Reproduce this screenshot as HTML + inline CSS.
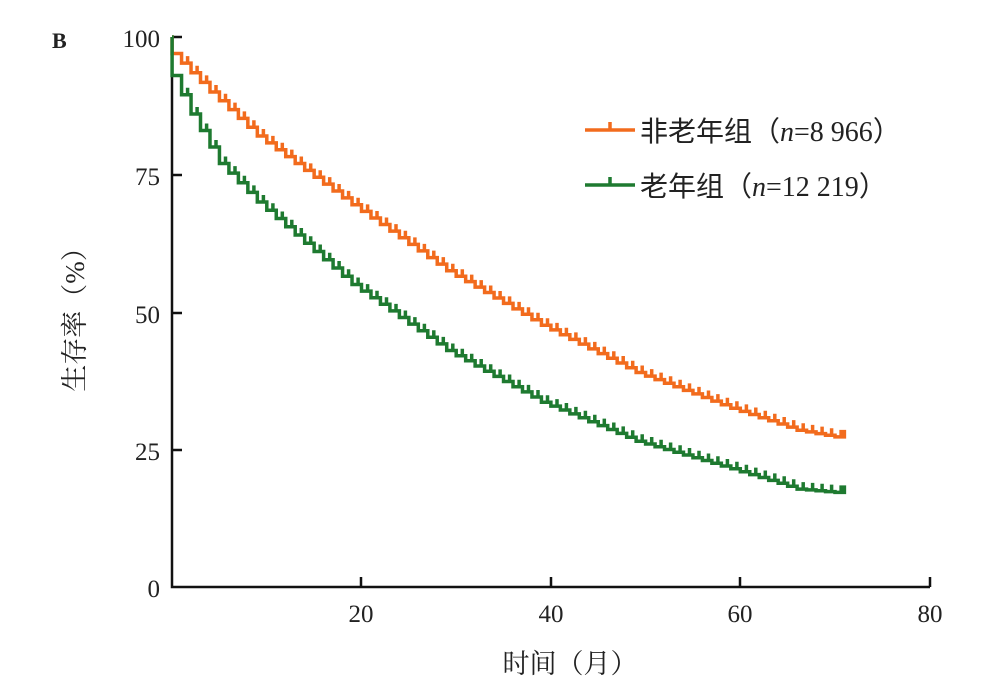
<!DOCTYPE html>
<html><head><meta charset="utf-8"><style>
body{margin:0;background:#fff}
svg text{font-family:"Liberation Serif","Noto Serif CJK SC",serif;fill:#222}
</style></head><body>
<svg id="s" width="1003" height="694" viewBox="0 0 1003 694" xmlns="http://www.w3.org/2000/svg">
<text x="52" y="48" font-size="22" font-weight="bold">B</text>
<g stroke="#111" stroke-width="2.5" fill="none">
<path d="M172,37 V587 H930"/>
<path d="M172,37 H182 M172,175 H182 M172,313 H182 M172,450 H182"/>
<path d="M361,587 V577 M551,587 V577 M740,587 V577 M930,587 V577"/>
</g>
<g font-size="25" text-anchor="end">
<text x="160" y="47">100</text><text x="160" y="185">75</text><text x="160" y="323">50</text><text x="160" y="460">25</text><text x="160" y="597">0</text>
</g>
<g font-size="25" text-anchor="middle">
<text x="361" y="622">20</text><text x="551" y="622">40</text><text x="740" y="622">60</text><text x="930" y="622">80</text>
</g>
<text x="570" y="673" font-size="27" text-anchor="middle" font-family="Noto Sans CJK SC,sans-serif">时间（月）</text>
<text transform="translate(84,313) rotate(-90)" font-size="27" text-anchor="middle" font-family="Noto Sans CJK SC,sans-serif">生存率（%）</text>
<path d="M585,130 H635 M610,130 V122" stroke="#f26b1d" stroke-width="3.5" fill="none"/>
<path d="M585,185 H635 M610,185 V177" stroke="#1e7a30" stroke-width="3.5" fill="none"/>
<text x="640" y="141" font-size="28"><tspan font-family="Noto Sans CJK SC,sans-serif">非老年组（</tspan><tspan font-style="italic">n</tspan>=8 966<tspan font-family="Noto Sans CJK SC,sans-serif">）</tspan></text>
<text x="640" y="196" font-size="28"><tspan font-family="Noto Sans CJK SC,sans-serif">老年组（</tspan><tspan font-style="italic">n</tspan>=12 219<tspan font-family="Noto Sans CJK SC,sans-serif">）</tspan></text>
<path id="o" stroke="#f26b1d" stroke-width="3.5" fill="none"/>
<path id="g" stroke="#1e7a30" stroke-width="3.5" fill="none"/>
</svg>
<script>
function interp(k,t){for(var i=0;i<k.length-1;i++){if(t<=k[i+1][0]){var a=k[i],b=k[i+1];return a[1]+(b[1]-a[1])*(t-a[0])/(b[0]-a[0]);}}return k[k.length-1][1];}
function X(t){return 172+t*9.47}function Y(p){return 587-p*5.5}
function build(k){var d="M"+X(0)+","+Y(100);var prev=100;for(var m=1;m<=71;m++){var v=interp(k,m);d+=" H"+X(m-1+0.01)+" V"+Y(v).toFixed(1);var ym=Y(v);if(m>1){d+=" H"+X(m-0.35).toFixed(1)+" V"+(ym-7).toFixed(1)+" V"+ym.toFixed(1);}d+=" H"+X(m).toFixed(1);prev=v;}d+=" V"+(Y(prev)-7);return d;}
var ok=[[0,100],[1,97],[5,90],[10,82],[20,69.5],[30,57.5],[40,47.6],[50,39],[60,32.5],[67,28.5],[71,27.3]];
var gk=[[0,100],[1,93],[3,86],[6,77],[10,70],[20,55],[30,43],[40,33.6],[50,26.5],[60,21.5],[67,17.8],[71,17.2]];
document.getElementById("o").setAttribute("d",build(ok));
document.getElementById("g").setAttribute("d",build(gk));
</script>
</body></html>
